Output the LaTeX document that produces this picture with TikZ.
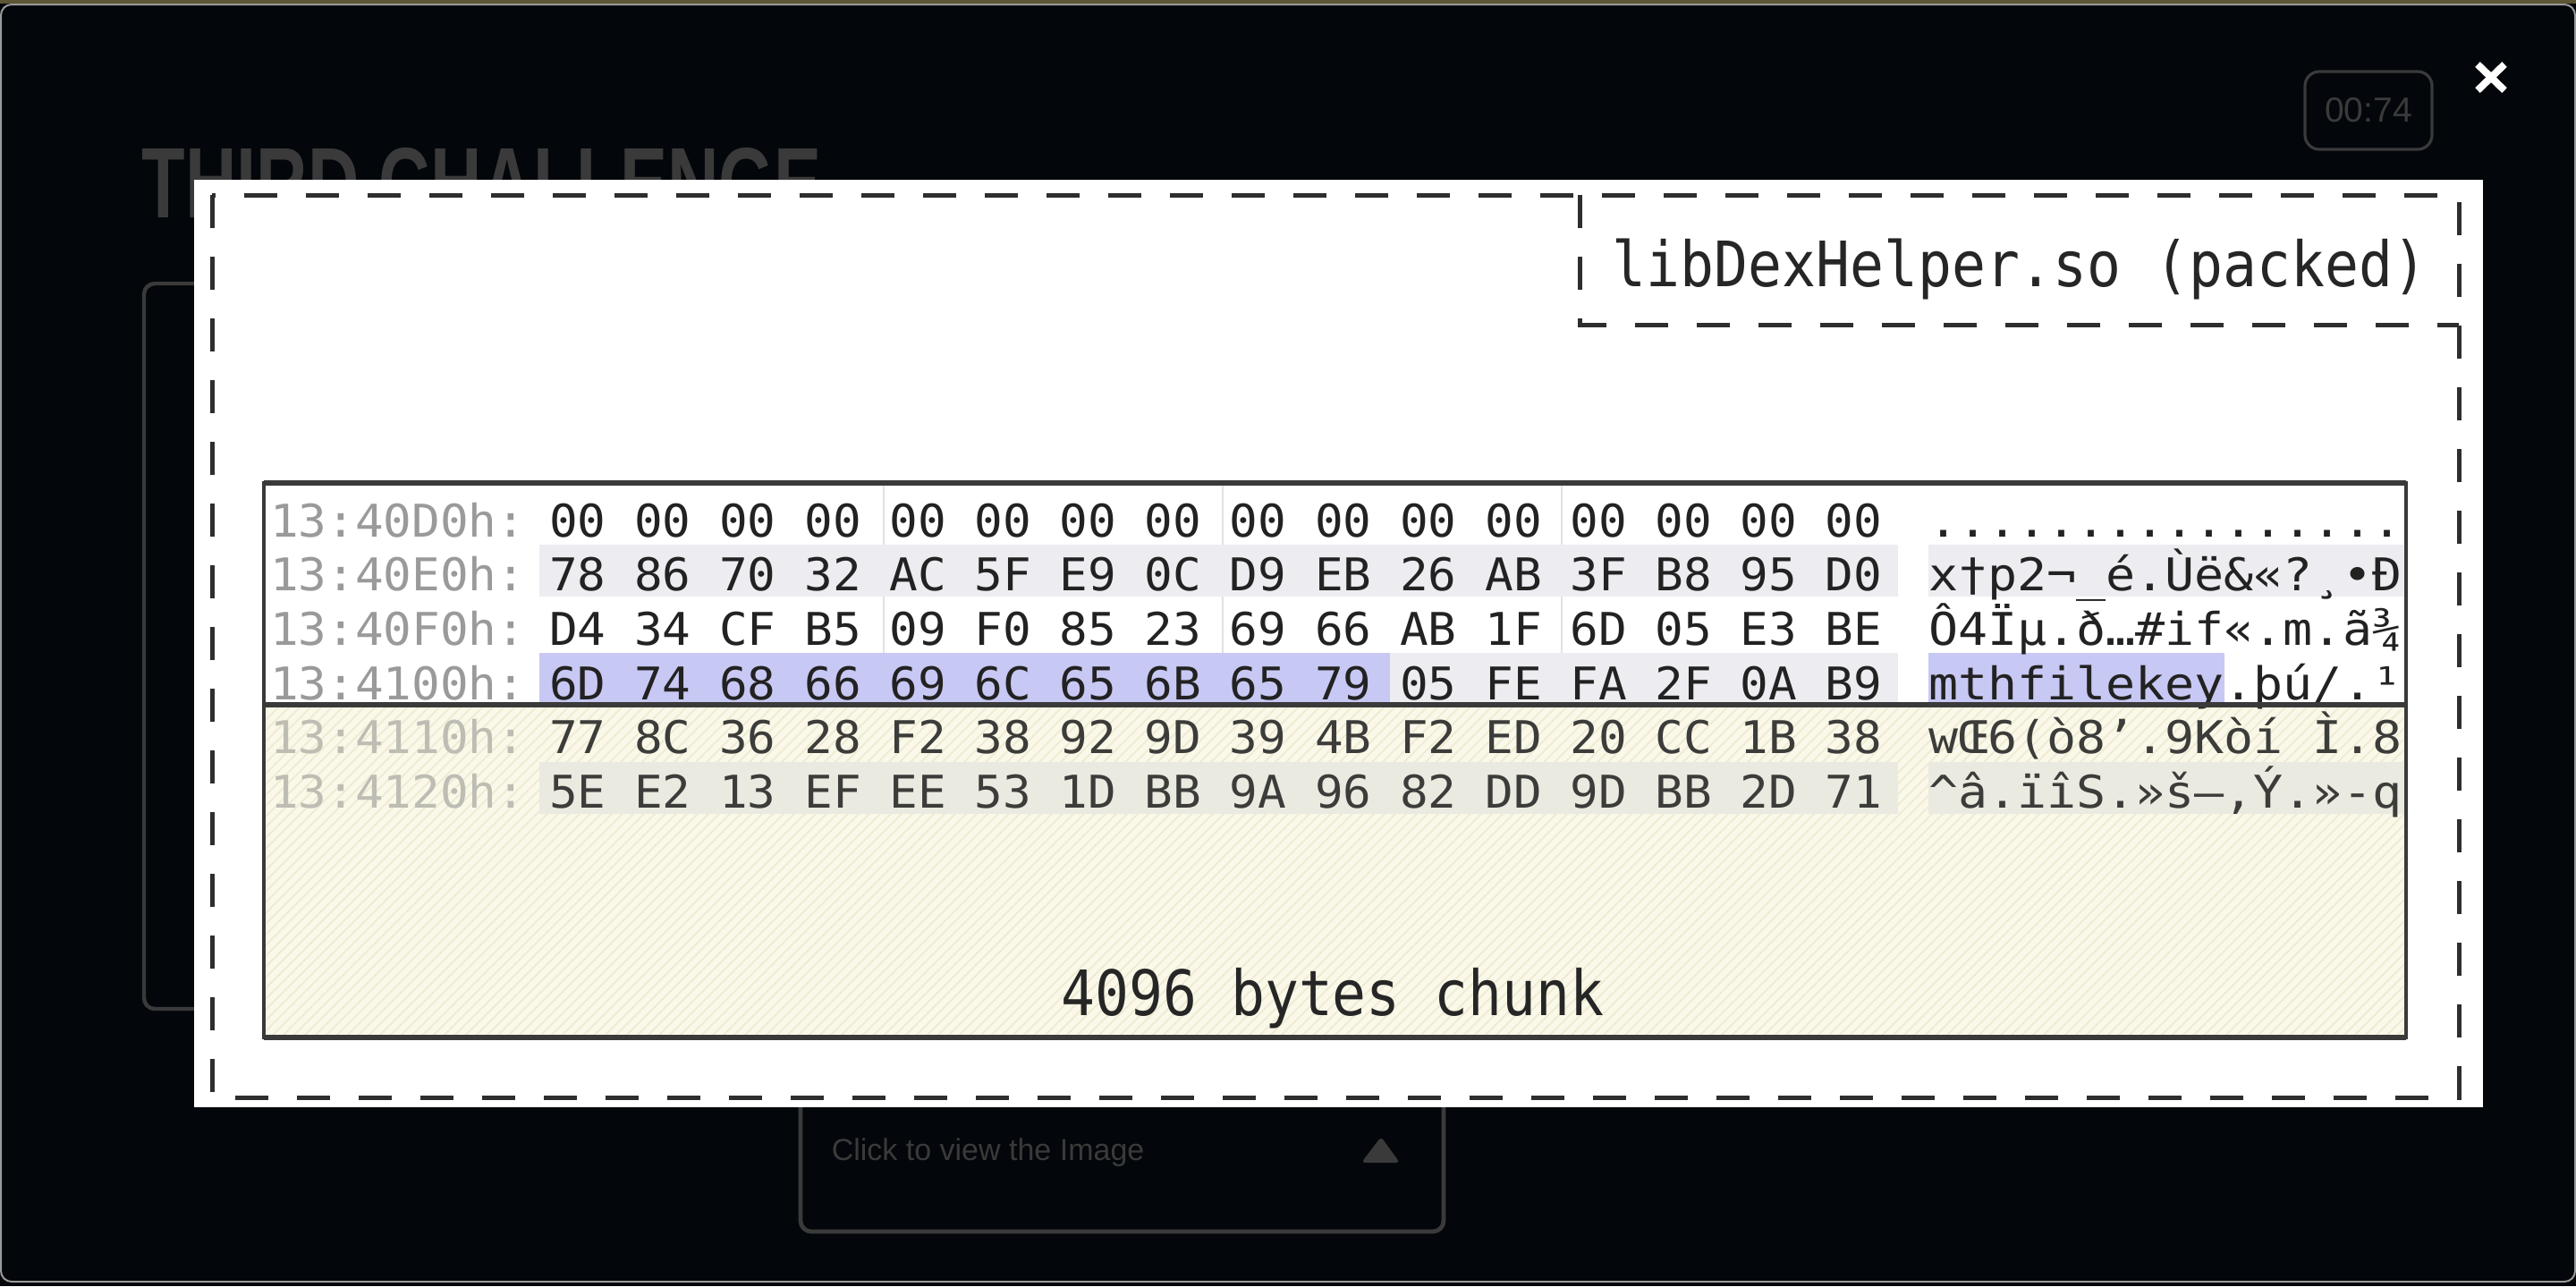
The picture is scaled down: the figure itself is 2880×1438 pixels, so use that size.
\documentclass[tikz,border=0pt]{standalone}
\usepackage{fontspec}
\usetikzlibrary{patterns}
\newfontfamily\lblfont[FakeStretch=0.9]{DejaVu Sans Mono}
\newfontfamily\hexfont[FakeStretch=1.045]{DejaVu Sans Mono}
\newfontfamily\ascfont[FakeStretch=1.09]{DejaVu Sans Mono}
\newfontfamily\titlefont[FakeStretch=0.71]{Liberation Sans}
\newfontfamily\uifont{Liberation Sans}
\definecolor{bgc}{HTML}{03060A}
\definecolor{olive}{HTML}{5E5634}
\definecolor{framec}{HTML}{9A9A9A}
\definecolor{uigrey}{HTML}{3A3A3A}
\definecolor{dashc}{HTML}{2E2E2E}
\definecolor{lav}{HTML}{C8C8F4}
\definecolor{band}{HTML}{ECECF1}
\definecolor{bandc}{HTML}{EBEAE0}
\definecolor{cream}{HTML}{FAF8E8}
\definecolor{hatch}{HTML}{EEEAD2}
\definecolor{tline}{HTML}{3A3A3A}
\definecolor{divc}{HTML}{E2E2E2}
\definecolor{addrc}{HTML}{9A9A9A}
\definecolor{addrd}{HTML}{BEBDB3}
\definecolor{hexink}{HTML}{222222}
\definecolor{hexdim}{HTML}{3C3C3A}
\definecolor{lblink}{HTML}{262626}
\newcommand\hexrowline[6]{%
  \node[addrs, text=#5] (addr#1) at (302,{600+(#1-1)*60.7}) {#2};
  \node[hexs, text=#6] (hex#1) at (614,{600+(#1-1)*60.7}) {#3};
  \node[ascs, text=#6] (asc#1) at (2156,{600+(#1-1)*60.7}) {#4};
}
\tikzset{
  addrs/.style={anchor=base west, inner sep=0pt, outer sep=0pt, font=\hexfont\fontsize{12.6}{12.6}\selectfont},
  hexs/.style={anchor=base west, inner sep=0pt, outer sep=0pt, font=\hexfont\fontsize{12.6}{12.6}\selectfont},
  ascs/.style={anchor=base west, inner sep=0pt, outer sep=0pt, font=\ascfont\fontsize{12.6}{12.6}\selectfont},
  dashbox/.style={dashc, line width=1.25pt, dash pattern=on 9.25pt off 8pt},
  uibox/.style={uigrey, line width=1.1pt, rounded corners=3pt},
}
\begin{document}
\begin{tikzpicture}[x=0.25pt,y=-0.25pt]
\useasboundingbox (0,0) rectangle (2880,1438);
% screen background
\fill[bgc] (0,0) rectangle (2880,1438);
\fill[olive] (0,0) rectangle (2880,4);
\draw[framec, line width=0.5pt, rounded corners=3pt] (1,5) rectangle (2879,1433);
% page behind the overlay
\node[anchor=base west, inner sep=0pt, text=uigrey, font=\titlefont\bfseries\fontsize{28}{28}\selectfont] (title) at (158,243) {THIRD CHALLENGE};
\draw[uibox] (161,317) rectangle (2650,1128);
\draw[uibox, line width=1.2pt] (895,1150) rectangle (1614,1377);
\node[anchor=base west, inner sep=0pt, text=uigrey, font=\uifont\fontsize{8.5}{8.5}\selectfont] (clicktxt) at (929,1297) {Click to view the Image};
\fill[uigrey, rounded corners=1pt] (1544,1271) -- (1565,1300) -- (1522,1300) -- cycle;
\node[draw=uigrey, line width=0.8pt, rounded corners=4pt, minimum width=35.5pt, minimum height=21.75pt, inner sep=0pt, text=uigrey, font=\uifont\fontsize{9.75}{9.75}\selectfont] (timer) at (2648,123.5) {00:74};
\draw[white, line width=2pt] (2770,72) -- (2800,101) (2800,72) -- (2770,101);
% overlay panel
\fill[white] (217,201) rectangle (2776,1238);
\draw[dashbox] (237,218) rectangle (2749,1227);
\draw[dashbox] (1766,218) -- (1766,363) -- (2749,363);
\node[anchor=base, inner sep=0pt, text=lblink, font=\lblfont\fontsize{17.5}{17.5}\selectfont] (label) at (2258,320) {libDexHelper.so (packed)};
% hex table
\fill[cream] (295,788) rectangle (2690,1160);
\fill[pattern=north east lines, pattern color=hatch] (295,788) rectangle (2690,1160);
\draw[divc, line width=0.5pt] (988,540) -- (988,788) (1367,540) -- (1367,788) (1746,540) -- (1746,788);
\fill[band] (603,608.7) rectangle (2122,666.7);
\fill[band] (2156,608.7) rectangle (2690,666.7);
\fill[lav] (603,730) rectangle (1554,788);
\fill[band] (1554,730) rectangle (2122,788);
\fill[lav] (2156,730) rectangle (2487,788);
\fill[bandc] (603,851.5) rectangle (2122,909.5);
\fill[bandc] (2156,851.5) rectangle (2690,909.5);
\begin{scope}
\clip (295,540) rectangle (2690,1160);
\hexrowline{1}{13:40D0h:}{00 00 00 00 00 00 00 00 00 00 00 00 00 00 00 00}{................}{addrc}{hexink}
\hexrowline{2}{13:40E0h:}{78 86 70 32 AC 5F E9 0C D9 EB 26 AB 3F B8 95 D0}{x†p2¬\_é.Ùë\&«?¸•Ð}{addrc}{hexink}
\hexrowline{3}{13:40F0h:}{D4 34 CF B5 09 F0 85 23 69 66 AB 1F 6D 05 E3 BE}{Ô4Ïµ.ð…\#if«.m.ã¾}{addrc}{hexink}
\hexrowline{4}{13:4100h:}{6D 74 68 66 69 6C 65 6B 65 79 05 FE FA 2F 0A B9}{mthfilekey.þú/.¹}{addrc}{hexink}
\hexrowline{5}{13:4110h:}{77 8C 36 28 F2 38 92 9D 39 4B F2 ED 20 CC 1B 38}{wŒ6(ò8’.9Kòí Ì.8}{addrd}{hexdim}
\hexrowline{6}{13:4120h:}{5E E2 13 EF EE 53 1D BB 9A 96 82 DD 9D BB 2D 71}{\textasciicircum â.ïîS.»š–‚Ý.»-q}{addrd}{hexdim}
\end{scope}
\draw[tline, line width=0.8pt] (295,540) rectangle (2690,1160);
\draw[tline, line width=1.3pt] (295,540) -- (2690,540);
\draw[tline, line width=1.4pt] (295,788) -- (2690,788);
\draw[tline, line width=1.4pt] (295,1160) -- (2690,1160);
\node[anchor=base, inner sep=0pt, text=lblink, font=\lblfont\fontsize{17.5}{17.5}\selectfont] (chunk) at (1490,1135) {4096 bytes chunk};
\end{tikzpicture}
\end{document}
